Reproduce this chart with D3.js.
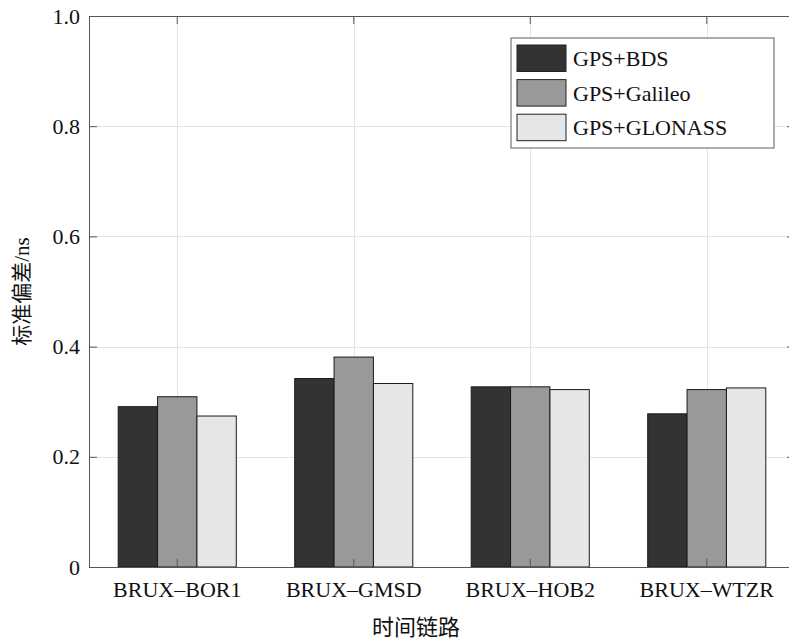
<!DOCTYPE html>
<html>
<head>
<meta charset="utf-8">
<script src="https://cdn.jsdelivr.net/npm/d3@7"></script>
<style>
  body { margin: 0; background: #fff; }
  svg text { font-family: "Liberation Serif", "Noto Sans CJK SC", serif; fill: #111; }
</style>
</head>
<body>
<div id="chart"></div>
<script>
const links = ["BRUX–BOR1", "BRUX–GMSD", "BRUX–HOB2", "BRUX–WTZR"];
const seriesNames = ["GPS+BDS", "GPS+Galileo", "GPS+GLONASS"];
const bdsValues = [0.291, 0.342, 0.327, 0.278];
const galileoValues = [0.309, 0.381, 0.327, 0.322];
const glonassValues = [0.274, 0.333, 0.322, 0.325];
const yTicks = [0, 0.2, 0.4, 0.6, 0.8, 1.0];

function init() {
  const width = 789, height = 642;
  const margin = { left: 89, top: 16, right: 795, bottom: 567 };
  const colors = ["#333333", "#999999", "#e6e6e6"];
  const seriesValues = [bdsValues, galileoValues, glonassValues];
  const serif = "'Liberation Serif', 'Noto Sans CJK SC', serif";

  const rows = links.map((name, i) => ({
    name: name,
    vals: seriesNames.map((s, j) => ({ key: s, idx: j, value: seriesValues[j][i] }))
  }));

  const svg = d3.select("#chart").append("svg")
    .attr("width", width)
    .attr("height", height);

  const x = d3.scaleBand()
    .domain(links)
    .range([margin.left, margin.right])
    .paddingInner(0.331)
    .paddingOuter(0.1655);

  const xInner = d3.scaleBand()
    .domain(seriesNames)
    .range([0, x.bandwidth()])
    .padding(0);

  const y = d3.scaleLinear()
    .domain([0, 1])
    .range([margin.bottom, margin.top]);

  // grid
  const grid = svg.append("g").attr("stroke", "#e3e3e3").attr("stroke-width", 1);
  grid.selectAll(".gx").data(links).enter().append("line")
    .attr("x1", d => Math.round(x(d) + x.bandwidth() / 2) + 0.5)
    .attr("x2", d => Math.round(x(d) + x.bandwidth() / 2) + 0.5)
    .attr("y1", margin.top).attr("y2", margin.bottom);
  grid.selectAll(".gy").data(yTicks.slice(1, -1)).enter().append("line")
    .attr("x1", margin.left).attr("x2", margin.right)
    .attr("y1", d => Math.round(y(d)) + 0.5)
    .attr("y2", d => Math.round(y(d)) + 0.5);

  // bars
  const groups = svg.selectAll(".grp").data(rows).enter().append("g")
    .attr("transform", d => "translate(" + x(d.name) + ",0)");

  groups.selectAll("rect").data(d => d.vals).enter().append("rect")
    .attr("x", d => xInner(d.key))
    .attr("y", d => y(d.value))
    .attr("width", xInner.bandwidth())
    .attr("height", d => y(0) - y(d.value))
    .attr("fill", d => colors[d.idx])
    .attr("stroke", "#1a1a1a")
    .attr("stroke-width", 1);

  // axes box
  const axisColor = "#555";
  const yAxis = d3.axisLeft(y).tickValues(yTicks).tickSizeInner(-8).tickSizeOuter(0)
    .tickFormat(d => d === 0 ? "0" : d3.format(".1f")(d)).tickPadding(9);
  const gy = svg.append("g").attr("transform", "translate(" + margin.left + ",0)").call(yAxis)
    .attr("font-family", serif);
  gy.select(".domain").attr("stroke", axisColor);
  gy.selectAll(".tick line").attr("stroke", axisColor);
  gy.selectAll(".tick text")
    .style("font-size", "22px")
    .attr("fill", "#111");

  const yAxisR = d3.axisRight(y).tickValues(yTicks).tickSizeInner(-8).tickSizeOuter(0).tickFormat("");
  const gyr = svg.append("g").attr("transform", "translate(" + margin.right + ",0)").call(yAxisR);
  gyr.select(".domain").attr("stroke", axisColor);
  gyr.selectAll(".tick line").attr("stroke", axisColor);

  const xAxis = d3.axisBottom(x).tickSizeInner(-8).tickSizeOuter(0).tickPadding(14);
  const gx = svg.append("g").attr("transform", "translate(0," + margin.bottom + ")").call(xAxis)
    .attr("font-family", serif);
  gx.select(".domain").attr("stroke", axisColor);
  gx.selectAll(".tick line").attr("stroke", axisColor);
  gx.selectAll(".tick text")
    .style("font-size", "22px")
    .attr("fill", "#111");

  const xAxisT = d3.axisTop(x).tickSizeInner(-8).tickSizeOuter(0).tickFormat("");
  const gxt = svg.append("g").attr("transform", "translate(0," + margin.top + ")").call(xAxisT);
  gxt.select(".domain").attr("stroke", axisColor);
  gxt.selectAll(".tick line").attr("stroke", axisColor);

  // axis titles
  svg.append("text")
    .attr("x", 416)
    .attr("y", 635)
    .attr("text-anchor", "middle")
    .style("font-family", serif)
    .style("font-size", "22px")
    .text("时间链路");

  svg.append("text")
    .attr("transform", "translate(29," + ((margin.top + margin.bottom) / 2) + ") rotate(-90)")
    .attr("text-anchor", "middle")
    .style("font-family", serif)
    .style("font-size", "21px")
    .text("标准偏差/ns");

  // legend
  const legend = svg.append("g").attr("transform", "translate(511,38)");
  legend.append("rect")
    .attr("x", 0).attr("y", 0)
    .attr("width", 263).attr("height", 110)
    .attr("fill", "#fff")
    .attr("stroke", "#777")
    .attr("stroke-width", 1.2);

  const items = legend.selectAll(".item").data(seriesNames).enter().append("g")
    .attr("transform", (d, i) => "translate(6," + (7 + i * 34.6) + ")");
  items.append("rect")
    .attr("width", 49).attr("height", 26.5)
    .attr("fill", (d, i) => colors[i])
    .attr("stroke", "#222")
    .attr("stroke-width", 1);
  items.append("text")
    .attr("x", 56)
    .attr("y", 21)
    .style("font-family", serif)
    .style("font-size", "22px")
    .text(d => d);
}
init();
</script>
</body>
</html>
